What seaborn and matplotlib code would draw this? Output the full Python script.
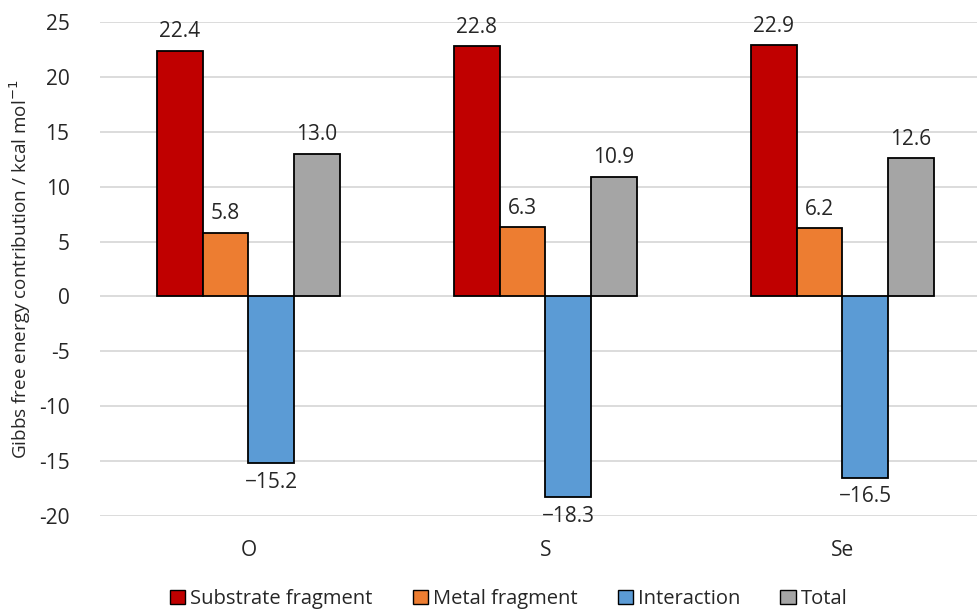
import matplotlib
matplotlib.use("Agg")
import matplotlib.pyplot as plt
from matplotlib.patches import Patch
import seaborn as sns
import pandas as pd

# Energy decomposition per chalcogen (kcal/mol)
categories = ["O", "S", "Se"]
series_names = ["Substrate fragment", "Metal fragment", "Interaction", "Total"]
substrate = [22.4, 22.8, 22.9]
metal = [5.8, 6.3, 6.2]
interaction = [-15.2, -18.3, -16.5]
total = [13.0, 10.9, 12.6]
colors = ["#C00000", "#ED7D31", "#5B9BD5", "#A5A5A5"]
yticks = [-20, -15, -10, -5, 0, 5, 10, 15, 20, 25]

rows = []
for name, vals in zip(series_names, [substrate, metal, interaction, total]):
    for cat, v in zip(categories, vals):
        rows.append({"Element": cat, "Component": name, "Value": v})
df = pd.DataFrame(rows)

sns.set_theme(style="white")
plt.rcParams["font.family"] = ["Open Sans", "DejaVu Sans"]
FS = 15

fig = plt.figure(figsize=(9.78, 6.10), dpi=100)
ax = fig.add_axes([100 / 978, 94 / 610, 891 / 978, 494 / 610])

sns.barplot(data=df, x="Element", y="Value", hue="Component",
            hue_order=series_names, palette=colors, width=0.616,
            edgecolor="black", linewidth=1.3, saturation=1,
            errorbar=None, legend=False, ax=ax, zorder=3)

ax.set_ylim(-20, 25)
ax.set_yticks(yticks)
ax.set_yticklabels([str(t) for t in yticks], fontsize=FS)
ax.tick_params(axis="x", labelsize=FS, length=0, pad=17)
ax.tick_params(axis="y", length=0, pad=22)
ax.yaxis.grid(True, color="#D9D9D9", linewidth=1.3, zorder=0)
ax.set_axisbelow(True)
for s in ax.spines.values():
    s.set_visible(False)
ax.set_xlabel("")
ax.set_ylabel("Gibbs free energy contribution / kcal mol$^{-1}$", fontsize=13.6, labelpad=4)

# value labels
for container in ax.containers:
    for bar in container:
        h = bar.get_height()
        x = bar.get_x() + bar.get_width() / 2
        txt = f"{h:.1f}".replace("-", "\u2212")
        if h >= 0:
            ax.annotate(txt, (x, h), xytext=(0, 6), textcoords="offset points",
                        ha="center", va="bottom", fontsize=FS)
        else:
            ax.annotate(txt, (x, h), xytext=(0, -6), textcoords="offset points",
                        ha="center", va="top", fontsize=FS)

handles = [Patch(facecolor=c, edgecolor="black", linewidth=1.0) for c in colors]
fig.legend(handles, series_names, loc="lower center", bbox_to_anchor=(0.52, -0.028),
           ncol=4, frameon=False, fontsize=14.5, handlelength=0.75, handleheight=0.75,
           handletextpad=0.25, columnspacing=2.0)

fig.savefig("out.png", dpi=100)
